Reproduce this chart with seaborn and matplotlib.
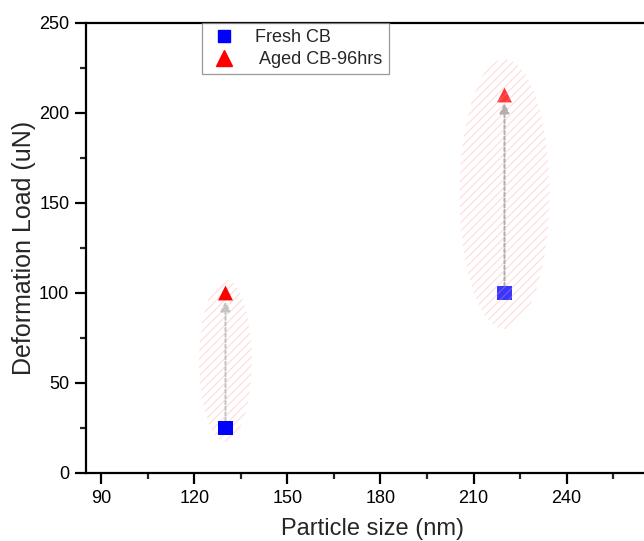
import matplotlib
matplotlib.use("Agg")
import matplotlib.pyplot as plt
from matplotlib.patches import Ellipse
from matplotlib.lines import Line2D
from matplotlib.ticker import MultipleLocator
import seaborn as sns
import pandas as pd

# particle sizes (nm) and deformation loads (uN)
particle_size = [130, 220]
fresh_load = [25, 100]
aged_load = [100, 210]
series_names = ["Fresh CB", "Aged CB-96hrs"]

df = pd.DataFrame({
    "size": particle_size * 2,
    "load": fresh_load + aged_load,
    "series": [series_names[0]] * 2 + [series_names[1]] * 2,
})

sns.set_theme(style="white")
plt.rcParams["font.family"] = ["Liberation Sans", "DejaVu Sans"]
plt.rcParams["hatch.linewidth"] = 0.8

fig = plt.figure(figsize=(6.44, 5.41), dpi=100)
ax = fig.add_axes([0.1335, 0.1257, 0.8906, 0.8318])

palette = {series_names[0]: "#0000ff", series_names[1]: "#ff0000"}
markers = {series_names[0]: "s", series_names[1]: "^"}
sns.scatterplot(data=df, x="size", y="load", hue="series", style="series",
                palette=palette, markers=markers, s=115, linewidth=0,
                legend=False, ax=ax, zorder=3)

# hatched highlight around each fresh/aged pair
ell_w = [17, 29]
ell_h = [90, 150]
ell_front = [False, True]
for i, x in enumerate(particle_size):
    cy = (fresh_load[i] + aged_load[i]) / 2
    e = Ellipse((x, cy), ell_w[i], ell_h[i],
                facecolor=(1, 1, 1, 0.22 if ell_front[i] else 0.0),
                edgecolor=(1.0, 0.6, 0.6, 0.35), hatch="////", linewidth=0,
                zorder=4 if ell_front[i] else 1)
    ax.add_patch(e)

# arrows from fresh to aged value
arrow_colors = ["#c4c4c4", "#9a9a9a"]
for i, x in enumerate(particle_size):
    ax.annotate("", xy=(x, aged_load[i]), xytext=(x, fresh_load[i]),
                arrowprops=dict(arrowstyle="-|>", linestyle=(0, (1.5, 1.2)),
                                color=arrow_colors[i], lw=1.5, mutation_scale=14,
                                shrinkA=5, shrinkB=6),
                zorder=2)

ax.set_xlim(85, 270)
ax.set_ylim(0, 250)
ax.xaxis.set_major_locator(MultipleLocator(30))
ax.xaxis.set_minor_locator(MultipleLocator(15))
ax.yaxis.set_major_locator(MultipleLocator(50))
ax.yaxis.set_minor_locator(MultipleLocator(25))
ax.set_xticks([90, 120, 150, 180, 210, 240])

for s in ax.spines.values():
    s.set_color("black")
    s.set_linewidth(1.6)
ax.tick_params(axis="both", which="major", direction="out", length=8, width=1.6,
               labelsize=13, colors="black", bottom=True, left=True, pad=4)
ax.tick_params(axis="both", which="minor", direction="out", length=4, width=1.6,
               bottom=True, left=True)

ax.set_xlabel("Particle size (nm)", fontsize=17, labelpad=8)
ax.set_ylabel("Deformation Load (uN)", fontsize=18, labelpad=2)

handles = [
    Line2D([], [], marker="s", color="#0000ff", linestyle="none", markersize=9),
    Line2D([], [], marker="^", color="#ff0000", linestyle="none", markersize=11),
]
leg = ax.legend(handles, [series_names[0], " " + series_names[1]], loc="upper left",
                bbox_to_anchor=(0.202, 1.0), borderaxespad=0, fontsize=13,
                frameon=True, fancybox=False, edgecolor="#808080",
                handletextpad=0.8, labelspacing=0.25, borderpad=0.35,
                handlelength=1.8)
leg.get_frame().set_linewidth(0.9)

fig.savefig("out.png", dpi=100)
